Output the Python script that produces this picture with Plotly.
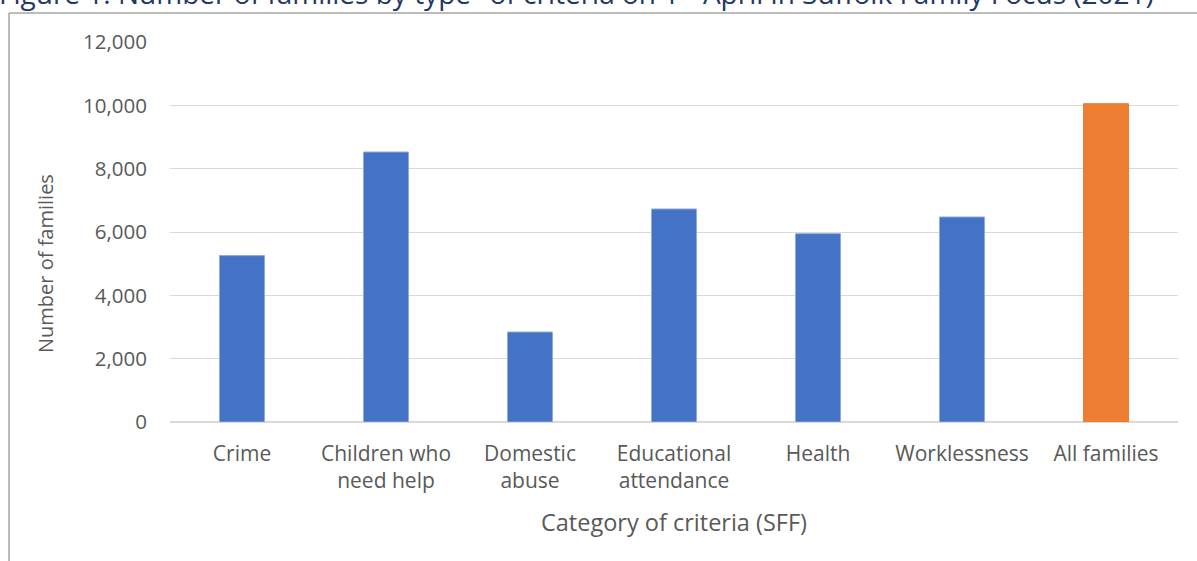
import plotly.graph_objects as go

categories = ["Crime", "Children who<br>need help", "Domestic<br>abuse", "Educational<br>attendance",
              "Health", "Worklessness", "All families"]
values = [5255, 8526, 2842, 6727, 5947, 6474, 10052]
bar_colors = ["#4472C4"] * 6 + ["#ED7D31"]
line_colors = ["#8FAADC"] * 6 + ["#ED7D31"]
y_ticks = [0, 2000, 4000, 6000, 8000, 10000, 12000]
y_ticktext = ["0", "2,000", "4,000", "6,000", "8,000", "10,000", "12,000"]

FONT = "Open Sans"
TXT = "#595959"

fig = go.Figure(go.Bar(
    x=categories, y=values,
    marker=dict(color=bar_colors, line=dict(color=line_colors, width=1)),
    width=0.3125,
))

L, R, T, B = 170, 19, 42, 139
W, H = 1197, 561
pw, ph = W - L - R, H - T - B

def px_x(p):
    return (p - L) / pw

def px_y(p):
    return (H - B - p) / ph

fig.update_layout(
    width=W, height=H,
    margin=dict(l=L, r=R, t=T, b=B, pad=0),
    paper_bgcolor="white", plot_bgcolor="white",
    showlegend=False,
    font=dict(family=FONT, color=TXT, size=20),
    xaxis=dict(showgrid=False, showline=False, ticks="", tickfont=dict(size=21, color=TXT),
               ticklabelstandoff=17),
    yaxis=dict(range=[0, 12000], tickvals=y_ticks, ticktext=y_ticktext,
               showgrid=True, gridcolor="#D9D9D9", gridwidth=1.4,
               zeroline=True, zerolinecolor="#D9D9D9", zerolinewidth=1.6,
               showline=False, ticks="", tickfont=dict(size=20.5, color=TXT),
               ticklabelstandoff=22),
    shapes=[
        dict(type="line", xref="paper", yref="paper", x0=px_x(9), x1=px_x(1210),
             y0=px_y(13), y1=px_y(13), line=dict(color="#A6A6A6", width=1.5)),
        dict(type="line", xref="paper", yref="paper", x0=px_x(9), x1=px_x(9),
             y0=px_y(13), y1=px_y(580), line=dict(color="#A6A6A6", width=1.5)),
    ],
    annotations=[
        dict(text="Figure 1: Number of families by type<sup>1</sup> of criteria on 1<sup>st</sup> April in Suffolk Family Focus (2021)",
             xref="paper", yref="paper", x=px_x(-3), y=px_y(14.5), xanchor="left", yanchor="bottom",
             showarrow=False, font=dict(family=FONT, size=28, color="#1F3864")),
        dict(text="Number of families", xref="paper", yref="paper", x=px_x(45), y=px_y(264),
             xanchor="center", yanchor="middle", textangle=-90, showarrow=False,
             font=dict(family=FONT, size=20, color=TXT)),
        dict(text="Category of criteria (SFF)", xref="paper", yref="paper", x=px_x(674), y=px_y(522),
             xanchor="center", yanchor="middle", showarrow=False,
             font=dict(family=FONT, size=23.5, color=TXT)),
    ],
)

fig.write_html("out.html")
